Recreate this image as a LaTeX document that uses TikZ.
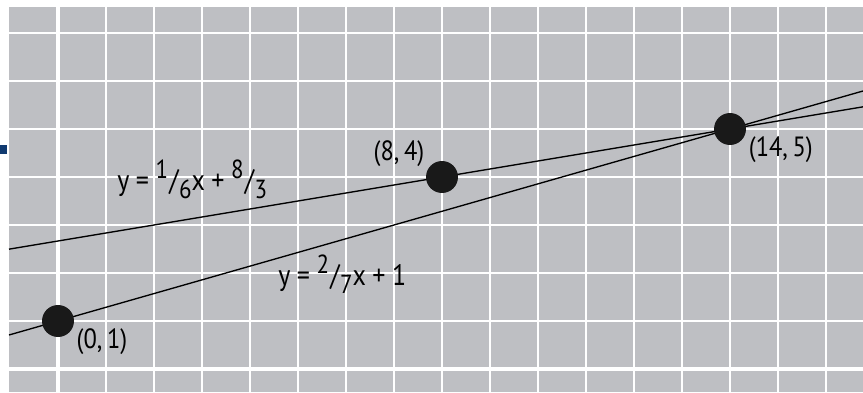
\documentclass[tikz,border=0pt]{standalone}
\usepackage{fontspec}
\setmainfont{PT Sans}[FakeStretch=0.88]
\definecolor{gridgray}{RGB}{190,191,195}
\definecolor{barblue}{RGB}{16,58,112}
\newcommand{\myfr}[2]{\raisebox{0.75ex}{\fontsize{15.5}{15.5}\selectfont #1}\kern0.04em/\kern0.02em\raisebox{-0.6ex}{\fontsize{15.5}{15.5}\selectfont #2}}
\newcommand{\eqsp}{\kern0.22em}
\tikzset{
  gridline/.style={white, line width=1.2pt},
  axisline/.style={white, line width=2.4pt},
  graphline/.style={black, line width=0.8pt},
  dot/.style={circle, fill=black!90, inner sep=0pt, minimum size=0.666cm},
  lbl/.style={inner sep=0pt, font=\fontsize{16.5}{16.5}\selectfont},
  eqlbl/.style={inner sep=0pt, font=\fontsize{17.5}{17.5}\selectfont, anchor=base west},
}
\begin{document}
\begin{tikzpicture}
\useasboundingbox (-1.2083,-0.4792) rectangle (16.7708,7.6875);
\fill[gridgray] (-1.0208,-0.4792) rectangle (16.7708,7.5417);
\fill[barblue] (-1.2083,4.479) rectangle (-1.063,4.667);
\begin{scope}
\clip (-1.0208,-0.4792) rectangle (16.7708,7.5417);
\foreach \x in {1,...,16} \draw[gridline] (\x,-1) -- (\x,8);
\foreach \y in {1,...,7} \draw[gridline] (-2,\y) -- (17,\y);
\draw[axisline] (0,-1) -- (0,8);
\draw[axisline] (-2,0) -- (17,0);
\end{scope}
\coordinate (l1a) at (-1.0208,2.4965);
\coordinate (l1b) at (16.7708,5.4618);
\coordinate (l2a) at (-1.0208,0.7083);
\coordinate (l2b) at (16.7708,5.7917);
\draw[graphline] (l1a) -- (l1b);
\draw[graphline] (l2a) -- (l2b);
\node[dot] (p01) at (0,1) {};
\node[dot] (p84) at (8,4) {};
\node[dot] (p145) at (14,5) {};
\node[lbl] (t01) at (0.917,0.5625) {(0,\,1)};
\node[lbl] (t84) at (7.104,4.479) {(8,\,4)};
\node[lbl] (t145) at (15.06,4.5625) {(14,\,5)};
\node[eqlbl] (eq1) at (1.229,3.729) {y\eqsp=\eqsp\myfr{1}{6}x\eqsp+\eqsp\myfr{8}{3}};
\node[eqlbl] (eq2) at (4.583,1.75) {y\eqsp=\eqsp\myfr{2}{7}x\eqsp+\eqsp1};
\end{tikzpicture}
\end{document}
